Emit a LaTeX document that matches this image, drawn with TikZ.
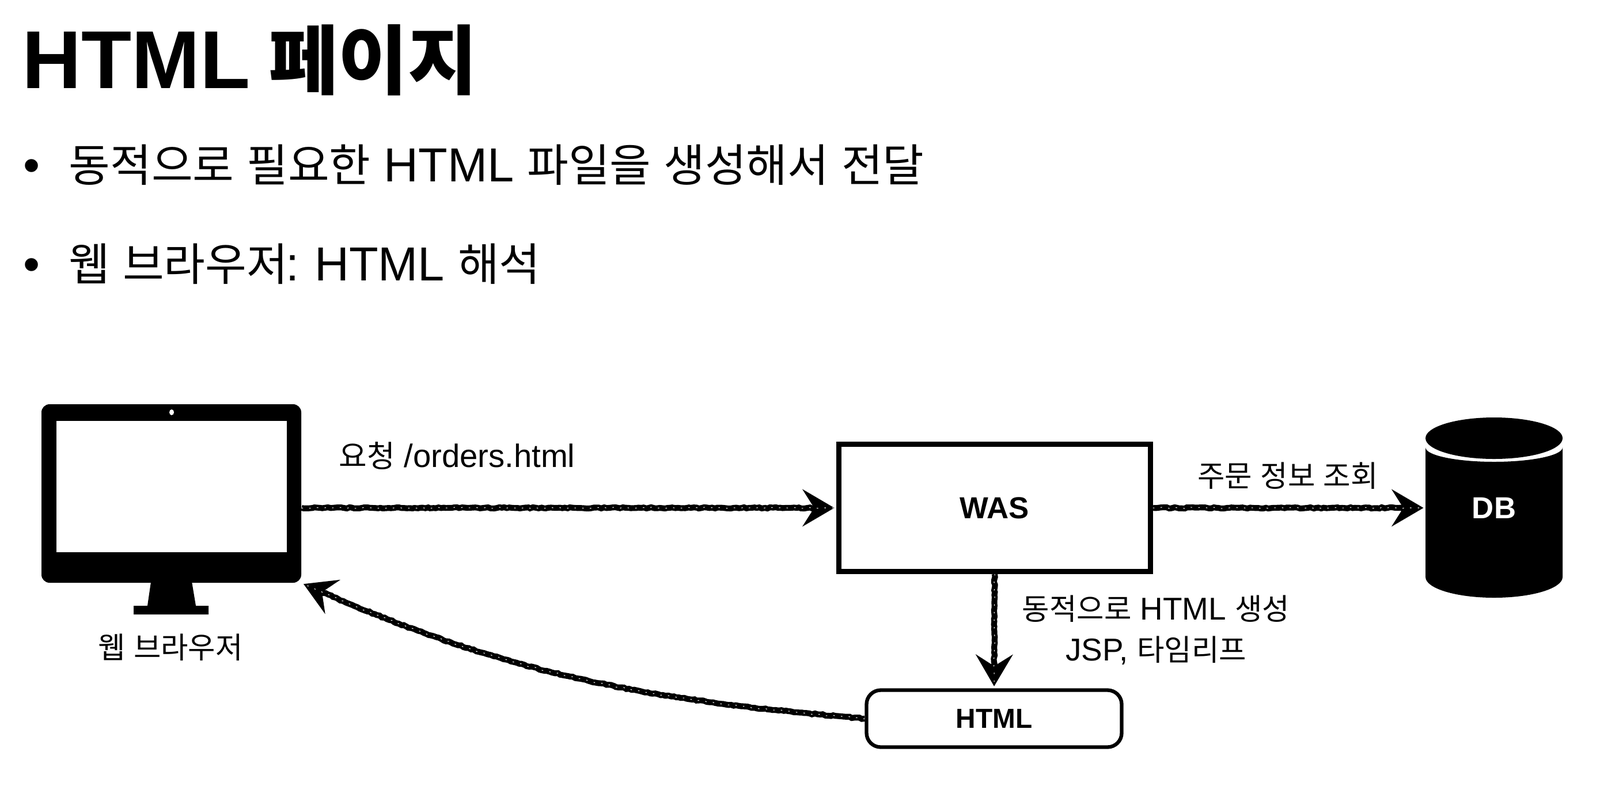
\documentclass[tikz,border=0pt]{standalone}
\usepackage{fontspec}
\setmainfont{Liberation Sans}
\newfontfamily\krfont[Scale=0.94, WordSpace=1.25]{Noto Sans CJK KR}
\newfontfamily\krhead[Scale=0.92]{Noto Sans CJK KR}
\newcommand{\kr}[1]{{\krfont #1}}
\usetikzlibrary{shapes.geometric, arrows.meta, positioning, calc, decorations.pathmorphing}
\tikzset{
  titletext/.style={anchor=base west, inner sep=0pt, font=\fontsize{40.6}{48}\selectfont\bfseries},
  bullettext/.style={anchor=base west, inner sep=0pt, font=\fontsize{23.6}{28}\selectfont},
  labeltext/.style={inner sep=0pt, font=\fontsize{15.6}{20.2}\selectfont},
  boxnode/.style={draw, fill=white, font=\fontsize{15}{17}\selectfont\bfseries, inner sep=0pt},
  sketch/.style={-{Stealth[length=.55cm, width=.64cm, inset=.2cm]}, line width=2.9pt, shorten >=1pt,
    decorate, decoration={random steps, segment length=1.3pt, amplitude=.3pt, post length=8pt},
    postaction={-, draw=white, line width=.3pt, dash pattern=on .7pt off 3.1pt}},
}

\begin{document}
\begin{tikzpicture}
  \useasboundingbox (0,0) rectangle (27.78,13.64);
  % heading
  \node[titletext] (title) at (0.38,12.11) {HTML\kern9pt{\krhead 페이지}};
  \node[bullettext] (dot1) at (0.40,10.49) {•};
  \node[bullettext] (line1) at (1.19,10.49) {\kr{동적으로 필요한} HTML \kr{파일을 생성해서 전달}};
  \node[bullettext] (dot2) at (0.40,8.77) {•};
  \node[bullettext] (line2) at (1.19,8.77) {\kr{웹 브라우저}\kern-1pt: \kern-1.2pt HTML \kr{해석}};
  % monitor
  \fill (2.63,3.60) -- (3.32,3.60) -- (3.40,3.12) -- (3.62,3.12) -- (3.62,2.97)
    -- (2.32,2.97) -- (2.32,3.12) -- (2.56,3.12) -- cycle;
  \node[fill=black, rounded corners=4pt, minimum width=4.51cm, minimum height=3.10cm, inner sep=0pt] (browser) at (2.975,5.07) {};
  \node[fill=white, minimum width=4.00cm, minimum height=2.28cm, inner sep=0pt] (screen) at (2.98,5.19) {};
  \node[fill=white, ellipse, minimum width=.08cm, minimum height=.10cm, inner sep=0pt] (camera) at (2.98,6.48) {};
  \node[labeltext, anchor=base] (browsertext) at (2.96,2.21) {\kr{웹 브라우저}};
  % server and page
  \node[boxnode, line width=2.5pt, minimum width=5.41cm, minimum height=2.21cm] (was) at (17.27,4.82) {WAS};
  \node[boxnode, line width=1.8pt, rounded corners=7pt, minimum width=4.43cm, minimum height=.99cm] (html) at (17.26,1.16) {\fontsize{13.6}{16}\selectfont HTML};
  % database
  \fill (24.75,5.87) arc[start angle=180, end angle=360, x radius=1.19, y radius=.25]
    -- (27.13,3.62) arc[start angle=0, end angle=-180, x radius=1.19, y radius=.36] -- cycle;
  \fill (25.94,6.03) ellipse[x radius=1.19, y radius=.36];
  \node[text=white, minimum width=2.38cm, minimum height=3.13cm, inner sep=0pt, outer sep=0pt, font=\fontsize{15}{17}\selectfont\bfseries] (db) at (25.94,4.82) {DB};
  % connectors
  \draw[sketch] (browser.east |- was.west) -- (was.west);
  \draw[sketch] (was.east) -- (db.west);
  \draw[sketch] (was.south) -- (html.north);
  \draw[sketch] (html.west) to[out=175, in=-24] (browser.south east);
  % labels
  \node[labeltext, anchor=base west, font=\fontsize{16}{20}\selectfont] (reqtext) at (5.88,5.53) {\kr{요청} /orders.html};
  \node[labeltext, anchor=base] (querytext) at (22.36,5.19) {\kr{주문 정보 조회}};
  \node[labeltext, align=center] (gentext) at (20.07,2.70) {\kr{동적으로} HTML \kr{생성}\\JSP, \kr{타임리프}};
\end{tikzpicture}
\end{document}
